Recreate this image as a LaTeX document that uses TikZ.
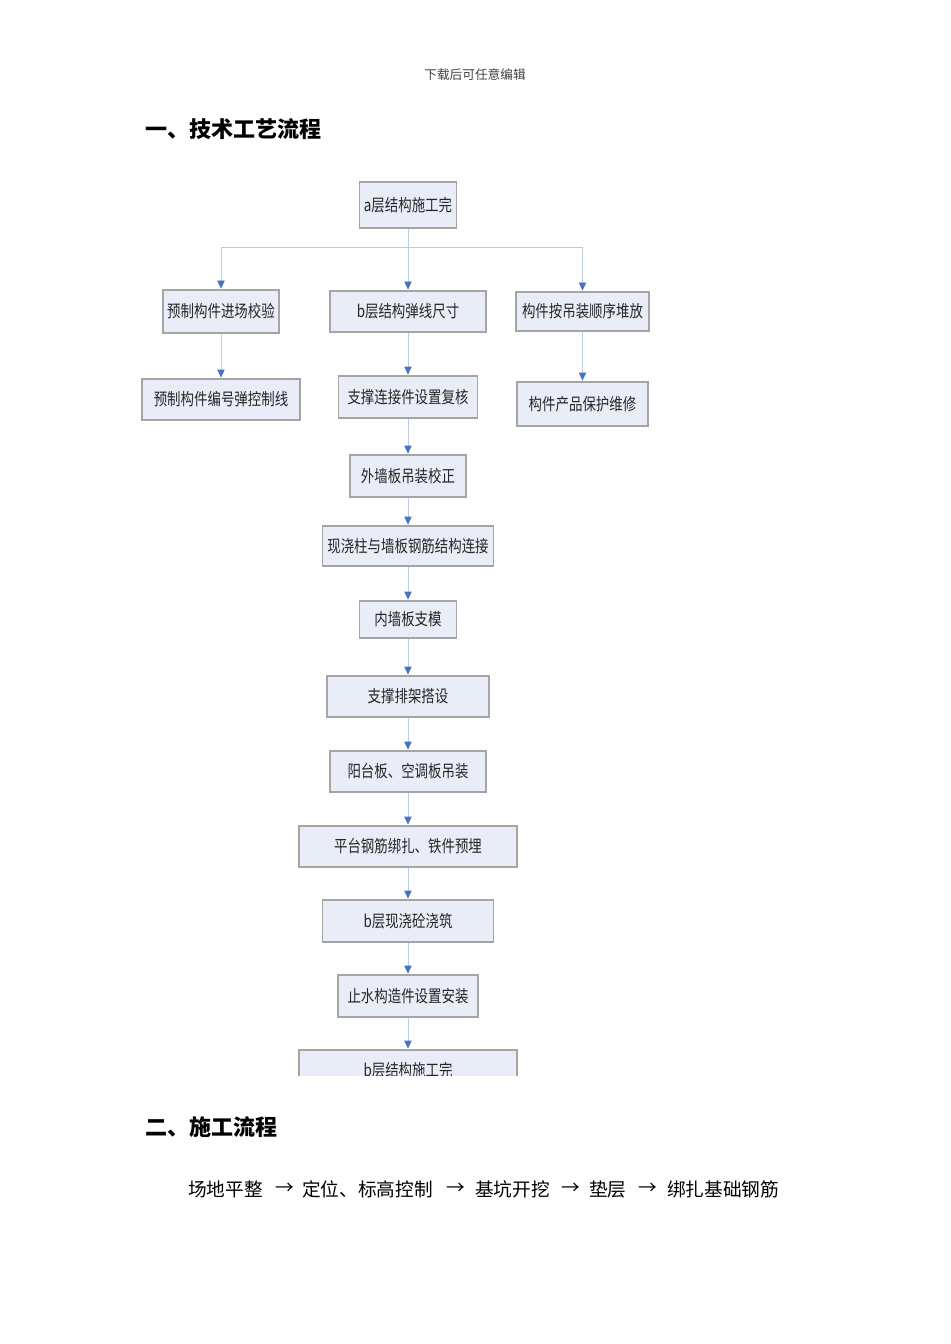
\documentclass[tikz,border=0pt]{standalone}
\usepackage{fontspec}
\setmainfont{Noto Sans CJK SC}
\newfontfamily\boxfont[FakeStretch=0.8]{Noto Sans CJK SC}
\usetikzlibrary{arrows.meta}
\newdimen\pxu \pxu=0.75pt
\definecolor{boxfill}{RGB}{233,237,247}
\definecolor{boxline}{RGB}{165,165,165}
\definecolor{linkline}{RGB}{190,204,226}
\definecolor{tipblue}{RGB}{70,115,195}
\tikzset{
  stagebox/.style={draw=boxline, fill=boxfill, line width=0.9pt, inner sep=0pt,
    font=\boxfont\fontsize{12.6}{14}\selectfont, text=black!85},
  link/.style={draw=linkline, line width=0.6pt, shorten >=0.6pt,
    -{Triangle[width=5.5pt,length=6pt,color=tipblue]}},
  flowtext/.style={anchor=west, inner sep=0pt, font=\fontsize{14}{16}\selectfont},
}
\begin{document}
\begin{tikzpicture}[x=0.75pt,y=-0.75pt]
  \useasboundingbox (0,0) rectangle (950,1344);
  \node[font=\fontsize{9.5}{11}\selectfont, text=black!75] (head) at (475,75) {下载后可任意编辑};
  \node[anchor=west, inner sep=0pt, font=\fontsize{16.5}{20}\selectfont\bfseries] (title1) at (145,129) {一、技术工艺流程};
  \node[anchor=west, inner sep=0pt, font=\fontsize{16.5}{20}\selectfont\bfseries] (title2) at (145,1127) {二、施工流程};

  \begin{scope}
    \clip (0,170) rectangle (950,1075);
    \node[stagebox, minimum width=97\pxu, minimum height=46\pxu] (top) at (408,205) {a层结构施工完};
    \node[stagebox, minimum width=116\pxu, minimum height=43\pxu] (l1) at (221,311.5) {预制构件进场校验};
    \node[stagebox, minimum width=156\pxu, minimum height=41\pxu] (m1) at (408,311.5) {b层结构弹线尺寸};
    \node[stagebox, minimum width=133\pxu, minimum height=39\pxu] (r1) at (582.5,311.5) {构件按吊装顺序堆放};
    \node[stagebox, minimum width=158\pxu, minimum height=41\pxu] (l2) at (221,399.5) {预制构件编号弹控制线};
    \node[stagebox, minimum width=139\pxu, minimum height=42\pxu] (m2) at (408,397) {支撑连接件设置复核};
    \node[stagebox, minimum width=131\pxu, minimum height=44\pxu] (r2) at (582.5,404) {构件产品保护维修};
    \node[stagebox, minimum width=116\pxu, minimum height=42\pxu] (m3) at (408,476) {外墙板吊装校正};
    \node[stagebox, minimum width=171\pxu, minimum height=40\pxu] (m4) at (408,546) {现浇柱与墙板钢筋结构连接};
    \node[stagebox, minimum width=97\pxu, minimum height=37\pxu] (m5) at (408,619.5) {内墙板支模};
    \node[stagebox, minimum width=162\pxu, minimum height=41\pxu] (m6) at (408,696.5) {支撑排架搭设};
    \node[stagebox, minimum width=156\pxu, minimum height=41\pxu] (m7) at (408,771.5) {阳台板、空调板吊装};
    \node[stagebox, minimum width=218\pxu, minimum height=41\pxu] (m8) at (408,846.5) {平台钢筋绑扎、铁件预埋};
    \node[stagebox, minimum width=171\pxu, minimum height=42\pxu] (m9) at (408,921) {b层现浇砼浇筑};
    \node[stagebox, minimum width=140\pxu, minimum height=42\pxu] (m10) at (408,996) {止水构造件设置安装};
    \node[stagebox, minimum width=218\pxu, minimum height=41\pxu] (m11) at (408,1070.5) {b层结构施工完};
    \coordinate (bar) at (408,247);

    \begin{scope}[link]
      \draw (top.south) -- (bar) -| (l1.north);
      \draw (top.south) -- (bar) -| (r1.north);
      \draw (top) to (m1);
      \draw (l1) to (l2);
      \draw (r1) to (r2);
      \foreach \a/\b in {m1/m2, m2/m3, m3/m4, m4/m5, m5/m6, m6/m7, m7/m8, m8/m9, m9/m10, m10/m11}
        \draw (\a) to (\b);
    \end{scope}
  \end{scope}

  \node[flowtext] (f1) at (188,1189) {场地平整};
  \node[flowtext] (a1) at (275,1189) {→};
  \node[flowtext] (f2) at (302,1189) {定位、标高控制};
  \node[flowtext] (a2) at (446,1189) {→};
  \node[flowtext] (f3) at (475,1189) {基坑开挖};
  \node[flowtext] (a3) at (561,1189) {→};
  \node[flowtext] (f4) at (589,1189) {垫层};
  \node[flowtext] (a4) at (638,1189) {→};
  \node[flowtext] (f5) at (667,1189) {绑扎基础钢筋};
\end{tikzpicture}
\end{document}
